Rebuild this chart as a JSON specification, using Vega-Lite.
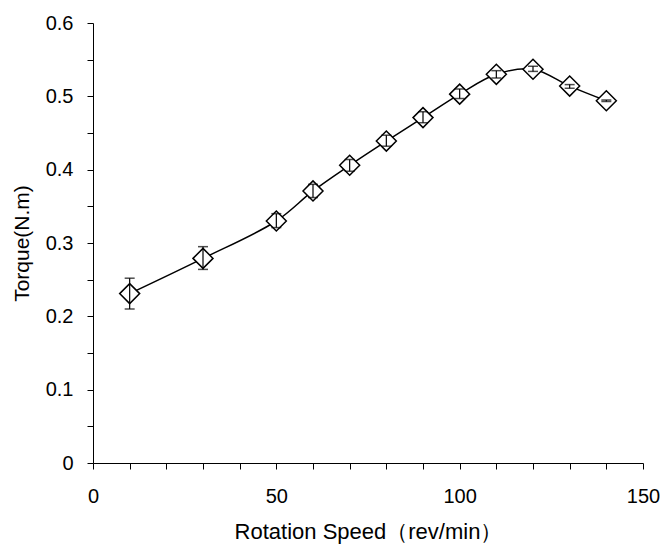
{
  "$schema": "https://vega.github.io/schema/vega-lite/v6.json",
  "width": 550,
  "height": 440,
  "autosize": "none",
  "padding": {"left": 93, "top": 23, "right": 22, "bottom": 82},
  "background": "white",
  "config": {
    "view": {"stroke": null},
    "font": "Liberation Sans",
    "axis": {
      "grid": false,
      "domainColor": "black",
      "tickColor": "black",
      "labelColor": "black",
      "titleColor": "black",
      "labelFont": "Liberation Sans",
      "titleFont": "Liberation Sans",
      "labelFontSize": 20,
      "titleFontSize": 21,
      "titleFontWeight": "normal",
      "tickSize": 6,
      "domainWidth": 1,
      "tickWidth": 1
    }
  },
  "data": {
    "values": [
      {"speed": 10, "torque": 0.231, "lo": 0.210, "hi": 0.252},
      {"speed": 30, "torque": 0.279, "lo": 0.264, "hi": 0.295},
      {"speed": 50, "torque": 0.330, "lo": 0.321, "hi": 0.340},
      {"speed": 60, "torque": 0.371, "lo": 0.362, "hi": 0.380},
      {"speed": 70, "torque": 0.406, "lo": 0.398, "hi": 0.414},
      {"speed": 80, "torque": 0.439, "lo": 0.432, "hi": 0.447},
      {"speed": 90, "torque": 0.471, "lo": 0.464, "hi": 0.479},
      {"speed": 100, "torque": 0.503, "lo": 0.497, "hi": 0.510},
      {"speed": 110, "torque": 0.530, "lo": 0.525, "hi": 0.535},
      {"speed": 120, "torque": 0.537, "lo": 0.534, "hi": 0.541},
      {"speed": 130, "torque": 0.514, "lo": 0.511, "hi": 0.516},
      {"speed": 140, "torque": 0.494, "lo": 0.493, "hi": 0.495}
    ]
  },
  "encoding": {
    "x": {
      "field": "speed", "type": "quantitative",
      "scale": {"domain": [0, 150], "nice": false, "zero": false},
      "axis": {
        "title": "Rotation Speed（rev/min）",
        "titleFontSize": 22,
        "values": [0,10,20,30,40,50,60,70,80,90,100,110,120,130,140,150],
        "labelExpr": "datum.value % 50 == 0 ? datum.label : ''",
        "labelPadding": 17,
        "titlePadding": 15,
        "labelFlush": false
      }
    },
    "y": {
      "field": "torque", "type": "quantitative",
      "scale": {"domain": [0, 0.6], "nice": false},
      "axis": {
        "title": "Torque(N.m)",
        "values": [0,0.05,0.1,0.15,0.2,0.25,0.3,0.35,0.4,0.45,0.5,0.55,0.6],
        "labelExpr": "round(datum.value*20) % 2 == 0 ? format(datum.value, '.1~f') : ''",
        "labelPadding": 14,
        "titlePadding": 13,
        "labelFlush": false
      }
    }
  },
  "layer": [
    {
      "mark": {"type": "line", "interpolate": "catmull-rom", "color": "black", "strokeWidth": 1.5}
    },
    {
      "mark": {"type": "point", "shape": "diamond", "size": 400, "filled": true, "fill": "white", "stroke": "black", "strokeWidth": 1.5, "opacity": 1}
    },
    {
      "mark": {"type": "rule", "color": "black", "strokeWidth": 1.2},
      "encoding": {"y": {"field": "lo", "type": "quantitative"}, "y2": {"field": "hi"}}
    },
    {
      "mark": {"type": "tick", "orient": "horizontal", "color": "black", "size": 10, "thickness": 1.5},
      "encoding": {"y": {"field": "lo", "type": "quantitative"}}
    },
    {
      "mark": {"type": "tick", "orient": "horizontal", "color": "black", "size": 10, "thickness": 1.5},
      "encoding": {"y": {"field": "hi", "type": "quantitative"}}
    }
  ]
}
